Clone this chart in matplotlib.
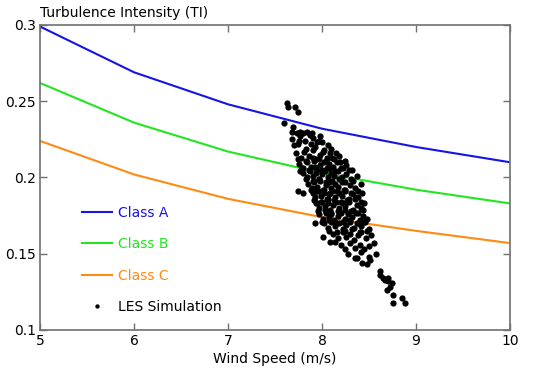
import numpy as np
import matplotlib
matplotlib.use('Agg')
import matplotlib.pyplot as plt

plt.rcParams['font.family'] = 'DejaVu Sans'

# IEC classes, read at integer wind speeds
speed = [5, 6, 7, 8, 9, 10]
class_a = [0.299, 0.269, 0.248, 0.232, 0.220, 0.210]
class_b = [0.262, 0.236, 0.217, 0.203, 0.192, 0.183]
class_c = [0.224, 0.202, 0.186, 0.174, 0.165, 0.157]

# LES points (row by row, top to bottom)
les_speed = [
    7.63, 7.64, 7.71, 7.74, 7.60, 7.69, 7.68, 7.73, 7.77, 7.80, 7.84, 7.87, 7.89, 7.68, 7.77, 7.90, 7.98, 7.95, 8.00, 7.82, 7.75,
    7.70, 7.76, 7.83, 7.88, 7.93, 7.97, 8.02, 8.06, 8.10, 8.15,
    7.72, 7.78, 7.81, 7.86, 7.90, 7.94, 7.98, 8.01, 8.05, 8.09, 8.13, 8.18, 8.24,
    7.75, 7.83, 7.90, 7.97, 8.04, 8.11, 8.19,
    7.76, 7.80, 7.84, 7.88, 7.91, 7.95, 7.98, 8.02, 8.05, 8.08, 8.12, 8.16, 8.20, 8.26, 8.32,
    7.79, 7.86, 7.93, 8.00, 8.07, 8.14, 8.22, 8.29,
    7.80, 7.84, 7.87, 7.90, 7.94, 7.97, 8.00, 8.03, 8.06, 8.10, 8.13, 8.17, 8.21, 8.26, 8.31, 8.37,
    7.83, 7.90, 7.97, 8.04, 8.11, 8.18, 8.25, 8.33,
    7.85, 7.89, 7.92, 7.95, 7.98, 8.01, 8.04, 8.07, 8.10, 8.14, 8.17, 8.21, 8.25, 8.30, 8.35, 8.41,
    7.88, 7.95, 8.02, 8.09, 8.16, 8.23, 8.31, 8.38,
    7.90, 7.93, 7.96, 7.99, 8.02, 8.05, 8.08, 8.11, 8.14, 8.18, 8.21, 8.25, 8.29, 8.33, 8.38, 8.43,
    7.92, 7.99, 8.06, 8.13, 8.20, 8.27, 8.35, 8.41,
    7.94, 7.97, 8.00, 8.03, 8.06, 8.09, 8.12, 8.15, 8.18, 8.22, 8.25, 8.29, 8.33, 8.37, 8.41, 8.45,
    7.96, 8.03, 8.10, 8.17, 8.24, 8.31, 8.38, 8.44,
    7.97, 8.01, 8.04, 8.07, 8.10, 8.13, 8.17, 8.20, 8.24, 8.28, 8.32, 8.36, 8.40, 8.44, 8.48,
    8.00, 8.08, 8.15, 8.22, 8.30, 8.37, 8.45,
    8.02, 8.06, 8.10, 8.14, 8.18, 8.22, 8.26, 8.30, 8.34, 8.38, 8.42, 8.46, 8.50,
    8.08, 8.16, 8.24, 8.32, 8.40, 8.48,
    8.12, 8.17, 8.22, 8.26, 8.30, 8.34, 8.38, 8.42, 8.47, 8.52,
    8.20, 8.25, 8.30, 8.35, 8.40, 8.45, 8.50, 8.55,
    8.28, 8.35, 8.42, 8.50, 8.58,
    7.77, 7.75, 7.80, 7.95, 7.93, 8.01, 8.09, 8.14,
    8.37, 8.43, 8.48, 8.51, 8.62, 8.62, 8.67, 8.70, 8.72, 8.69, 8.76, 8.76, 8.85, 8.88, 8.65, 8.70, 8.74,
]
les_ti = [
    0.249, 0.246, 0.246, 0.243, 0.236, 0.233, 0.230, 0.229, 0.230, 0.229, 0.230, 0.228, 0.229, 0.225, 0.227, 0.226, 0.227, 0.223, 0.223, 0.224, 0.222,
    0.221, 0.224, 0.219, 0.222, 0.220, 0.224, 0.218, 0.221, 0.219, 0.216,
    0.216, 0.213, 0.217, 0.214, 0.218, 0.212, 0.215, 0.217, 0.213, 0.216, 0.212, 0.214, 0.211,
    0.212, 0.211, 0.213, 0.212, 0.211, 0.213, 0.210,
    0.209, 0.206, 0.210, 0.207, 0.211, 0.205, 0.208, 0.210, 0.206, 0.209, 0.207, 0.210, 0.206, 0.208, 0.205,
    0.206, 0.205, 0.207, 0.205, 0.206, 0.204, 0.206, 0.205,
    0.203, 0.200, 0.204, 0.201, 0.203, 0.199, 0.202, 0.204, 0.200, 0.203, 0.201, 0.204, 0.200, 0.202, 0.199, 0.201,
    0.199, 0.198, 0.199, 0.197, 0.198, 0.199, 0.197, 0.198,
    0.196, 0.193, 0.197, 0.194, 0.198, 0.192, 0.195, 0.197, 0.193, 0.196, 0.194, 0.197, 0.192, 0.195, 0.193, 0.196,
    0.192, 0.191, 0.192, 0.190, 0.191, 0.192, 0.190, 0.191,
    0.190, 0.187, 0.191, 0.188, 0.190, 0.186, 0.189, 0.191, 0.187, 0.190, 0.188, 0.191, 0.186, 0.189, 0.187, 0.190,
    0.185, 0.184, 0.186, 0.185, 0.184, 0.185, 0.186, 0.184,
    0.183, 0.180, 0.184, 0.181, 0.183, 0.179, 0.182, 0.184, 0.180, 0.183, 0.181, 0.184, 0.179, 0.182, 0.180, 0.183,
    0.178, 0.179, 0.177, 0.178, 0.179, 0.178, 0.177, 0.179,
    0.176, 0.173, 0.177, 0.174, 0.176, 0.172, 0.175, 0.177, 0.173, 0.176, 0.174, 0.177, 0.172, 0.175, 0.173,
    0.171, 0.172, 0.170, 0.171, 0.172, 0.170, 0.171,
    0.170, 0.167, 0.171, 0.168, 0.170, 0.166, 0.169, 0.171, 0.167, 0.170, 0.168, 0.171, 0.166,
    0.165, 0.164, 0.165, 0.166, 0.164, 0.165,
    0.163, 0.160, 0.164, 0.161, 0.163, 0.159, 0.162, 0.164, 0.160, 0.162,
    0.156, 0.153, 0.157, 0.154, 0.156, 0.153, 0.155, 0.157,
    0.150, 0.147, 0.151, 0.148, 0.150,
    0.204, 0.191, 0.190, 0.183, 0.170, 0.161, 0.158, 0.158,
    0.147, 0.144, 0.143, 0.146, 0.139, 0.136, 0.133, 0.132, 0.128, 0.126, 0.123, 0.118, 0.121, 0.118, 0.134, 0.134, 0.131,
]

fig = plt.figure(figsize=(5.5, 3.77), dpi=100)
ax = fig.add_axes([0.0727, 0.1247, 0.8545, 0.809])

ax.plot(speed, class_a, '-', color='#1414e6', lw=1.5, label='Class A')
ax.plot(speed, class_b, '-', color='#22e622', lw=1.5, label='Class B')
ax.plot(speed, class_c, '-', color='#ff8a12', lw=1.5, label='Class C')
ax.plot(les_speed, les_ti, 'o', color='black', ms=4.5, mec='none', label='LES Simulation')

ax.set_xlim(5, 10)
ax.set_ylim(0.1, 0.3)
ax.set_xticks([5, 6, 7, 8, 9, 10])
ax.set_yticks([0.1, 0.15, 0.2, 0.25, 0.3])
ax.set_yticklabels(['0.1', '0.15', '0.2', '0.25', '0.3'])
ax.tick_params(direction='in', top=True, right=True, length=5, width=1,
               color='#707070', labelsize=10, pad=3)
for s in ax.spines.values():
    s.set_color('#707070')
    s.set_linewidth(1.2)

ax.set_xlabel('Wind Speed (m/s)', fontsize=10, labelpad=3)
fig.text(0.073, 0.965, 'Turbulence Intensity (TI)', fontsize=10, ha='left', va='center')

leg = ax.legend(loc='upper left', bbox_to_anchor=(0.074, 0.43), frameon=False,
                handlelength=2.2, handletextpad=0.4, labelspacing=1.25,
                borderpad=0, fontsize=10, labelcolor='linecolor', markerscale=0.7)

fig.savefig('out.png', dpi=100)
